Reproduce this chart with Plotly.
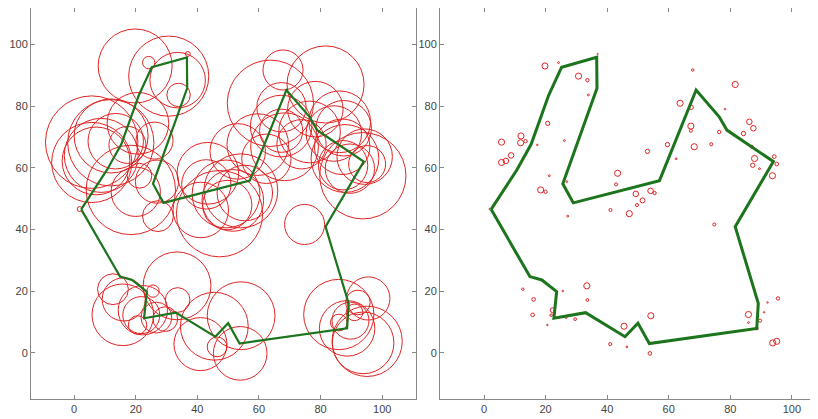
import plotly.graph_objects as go

# ---- data ----
tour_x = [2.3, 10.6, 15.3, 17.7, 21.0, 25.2, 36.6, 36.7, 25.6, 29.0, 57.0, 68.9, 76.4, 78.9, 94.0,
          81.6, 89.1, 88.6, 53.7, 50.0, 45.8, 33.0, 22.7, 23.6, 18.8, 14.9, 2.3]
tour_y = [46.5, 59.2, 67.6, 74.4, 83.5, 92.6, 95.8, 85.8, 54.8, 48.6, 55.8, 85.2, 76.5, 72.2, 62.0,
          40.9, 16.0, 7.9, 3.0, 9.6, 5.2, 13.0, 11.2, 19.8, 23.6, 24.7, 46.5]

pt_x = [19.8, 24.2, 30.7, 33.6, 33.9, 20.7, 5.7, 12.0, 11.9, 13.5, 17.3, 5.7, 7.1, 8.8, 21.2, 18.4,
        20.0, 26.1, 26.9, 27.2, 43.4, 42.9, 41.1, 49.3, 51.5, 49.7, 47.2, 54.1, 55.4, 53.1, 59.6,
        62.4, 63.7, 67.3, 67.8, 67.2, 67.2, 68.3, 73.8, 74.8, 78.3, 76.4, 81.6, 84.3, 86.2, 87.5,
        87.0, 87.9, 87.3, 89.5, 94.3, 95.1, 93.7, 12.6, 16.1, 15.8, 20.6, 22.3, 21.8, 25.6, 26.7,
        29.6, 33.4, 33.6, 41.0, 46.4, 45.5, 54.2, 53.9, 85.9, 85.9, 89.7, 88.6, 92.1, 91.0, 95.5,
        93.8, 95.1, 36.9, 1.8]
pt_y = [93.0, 94.1, 89.7, 88.4, 83.6, 74.4, 68.3, 70.3, 68.1, 68.6, 67.4, 61.7, 62.2, 64.0, 57.4, 52.8,
        52.2, 68.8, 55.5, 44.3, 58.2, 54.6, 46.3, 51.5, 49.4, 47.9, 45.1, 52.5, 51.8, 65.3, 67.5,
        62.9, 80.9, 79.6, 91.7, 73.5, 72.0, 66.8, 67.6, 41.6, 79.0, 71.6, 87.0, 71.1, 74.9, 72.8,
        66.8, 63.0, 60.8, 59.7, 63.6, 61.2, 57.4, 20.6, 17.3, 12.3, 9.0, 13.8, 12.2, 20.0, 11.4,
        10.9, 21.7, 17.1, 2.8, 1.9, 8.6, 12.0, -0.2, 12.4, 9.8, 10.4, 7.9, 16.3, 13.1, 17.6,
        3.2, 3.7, 96.9, 46.6]
# radius in the left panel (before)
r_before = [12, 2.0, 13, 9, 3.8, 10, 15, 12, 14, 9, 6, 13, 11, 12, 4, 14.5,
            8, 6, 7, 5, 10, 8, 9, 11, 10, 8, 14, 12, 9, 9, 10,
            8, 14, 8, 6.5, 10, 7, 11, 8, 6.5, 9, 10, 12.5, 9, 10, 9,
            9, 11, 8, 8, 9, 6, 14, 5, 7, 10, 3, 8, 6, 2, 5,
            4, 11, 4, 8.6, 3.2, 11, 11, 8.7, 11.4, 2.7, 6, 9, 4, 2.7, 7,
            10, 11.4, 0.8, 0.8]
# radius in the right panel (after)
r_after = [1.0, 0.3, 1.0, 0.55, 0.3, 0.7, 1.0, 1.0, 1.0, 0.55, 0.25, 1.0, 0.9, 0.9, 0.3, 1.0,
           0.55, 0.3, 0.3, 0.3, 1.0, 0.5, 0.5, 0.9, 0.8, 0.5, 1.0, 0.9, 0.55, 0.7, 0.7,
           0.3, 1.0, 0.7, 0.4, 1.0, 0.5, 1.0, 0.5, 0.5, 0.25, 0.55, 1.0, 0.7, 0.9, 0.9,
           0.5, 1.0, 0.7, 0.3, 0.6, 0.6, 1.0, 0.4, 0.6, 0.6, 0.25, 0.8, 0.4, 0.25, 0.3,
           0.45, 1.0, 0.45, 0.5, 0.3, 1.0, 1.0, 0.6, 1.0, 0.3, 0.5, 0.5, 0.25, 0.25, 0.55,
           1.0, 1.0, 0.2, 0.2]

tick_vals = [0, 20, 40, 60, 80, 100]
x_range_left = [-14.0, 110.8]
x_range_right = [-14.3, 108.5]
y_range = [-15.0, 111.8]

RED = "#e02424"
GREEN = "#1c741c"

# the page has an 8px body margin; the figure is sized to sit inside it
W, H = 810, 411
ML, MR, MT, MB = 23, 0, 0, 20
PW = W - ML - MR

fig = go.Figure()

shapes = []
for cx, cy, r in zip(pt_x, pt_y, r_before):
    shapes.append(dict(type="circle", xref="x", yref="y",
                       x0=cx - r, x1=cx + r, y0=cy - r, y1=cy + r,
                       line=dict(color=RED, width=1), layer="below"))
for cx, cy, r in zip(pt_x, pt_y, r_after):
    shapes.append(dict(type="circle", xref="x2", yref="y2",
                       x0=cx - r, x1=cx + r, y0=cy - r, y1=cy + r,
                       line=dict(color=RED, width=1), layer="below"))

fig.add_trace(go.Scatter(x=tour_x, y=tour_y, mode="lines",
                         line=dict(color=GREEN, width=2.2), xaxis="x", yaxis="y",
                         showlegend=False, hoverinfo="skip"))
fig.add_trace(go.Scatter(x=tour_x, y=tour_y, mode="lines",
                         line=dict(color=GREEN, width=3), xaxis="x2", yaxis="y2",
                         showlegend=False, hoverinfo="skip"))

axis_common = dict(tickvals=tick_vals, ticks="inside", ticklen=4, tickcolor="#888",
                   showline=True, linecolor="#888", linewidth=1, showgrid=False,
                   zeroline=False, automargin=False,
                   tickfont=dict(family="Liberation Sans", size=11, color="#444"))

left_dom = [0, (407.5 - ML) / PW]
right_dom = [(432 - ML) / PW, 1.0]

fig.update_layout(
    width=W, height=H,
    margin=dict(l=ML, r=MR, t=MT, b=MB, autoexpand=False),
    paper_bgcolor="white", plot_bgcolor="white",
    shapes=shapes,
    xaxis=dict(domain=left_dom, range=x_range_left, anchor="y", mirror="ticks", **axis_common),
    yaxis=dict(domain=[0, 1], range=y_range, anchor="x", mirror="ticks", **axis_common),
    xaxis2=dict(domain=right_dom, range=x_range_right, anchor="y2", mirror="ticks", **axis_common),
    yaxis2=dict(domain=[0, 1], range=y_range, anchor="x2", mirror=False, **axis_common),
)

fig.write_html("out.html")
